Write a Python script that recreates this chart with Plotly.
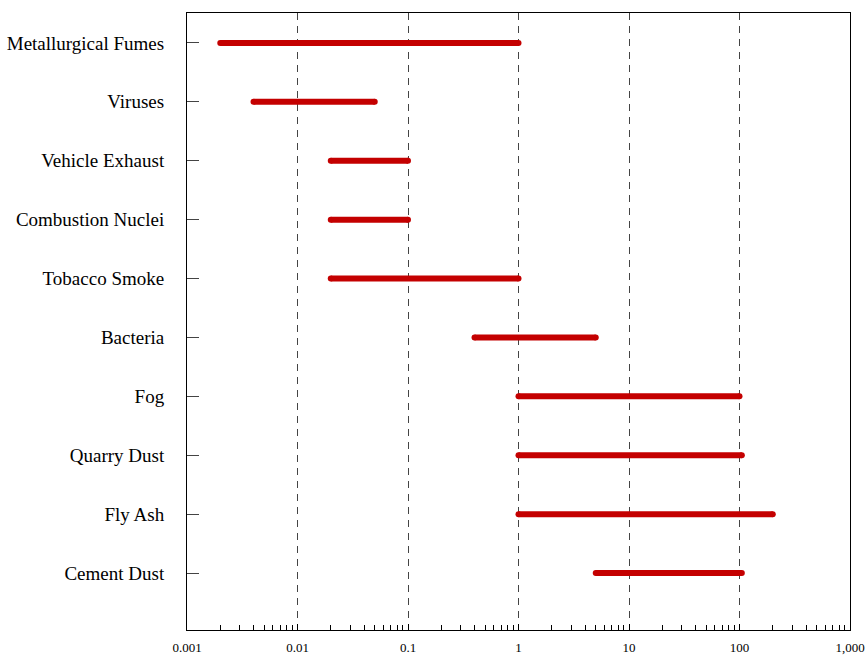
import plotly.graph_objects as go

categories = ["Metallurgical Fumes", "Viruses", "Vehicle Exhaust", "Combustion Nuclei",
              "Tobacco Smoke", "Bacteria", "Fog", "Quarry Dust", "Fly Ash", "Cement Dust"]
size_min = [0.002, 0.004, 0.02, 0.02, 0.02, 0.4, 1, 1, 1, 5]
size_max = [1, 0.05, 0.1, 0.1, 1, 5, 100, 105, 200, 105]

x_tickvals = [0.001, 0.01, 0.1, 1, 10, 100, 1000]
x_ticktext = ["0.001", "0.01", "0.1", "1", "10", "100", "1,000"]

RED = "#c40000"
fig = go.Figure()
for cat, lo, hi in zip(categories, size_min, size_max):
    fig.add_trace(go.Scatter(
        x=[lo, hi], y=[cat, cat], mode="lines+markers",
        line=dict(color=RED, width=6),
        marker=dict(color=RED, size=6, line=dict(width=0)),
        showlegend=False, hoverinfo="skip"))

fig.update_layout(
    width=867, height=659,
    margin=dict(l=187, r=17, t=13, b=29),
    paper_bgcolor="white", plot_bgcolor="white",
    font=dict(family="Liberation Serif, Times New Roman, serif", color="black"),
    xaxis=dict(
        type="log", range=[-3, 3], automargin=False,
        tickvals=x_tickvals, ticktext=x_ticktext,
        ticks="inside", ticklen=6, tickcolor="black",
        showline=True, linecolor="black", linewidth=1, mirror=True,
        showgrid=True, gridcolor="#444", gridwidth=1, griddash="7px,6px",
        tickfont=dict(size=13), ticklabelstandoff=5,
        minor=dict(ticks="inside", ticklen=5, tickcolor="black", dtick="D1", showgrid=False),
        zeroline=False,
    ),
    yaxis=dict(
        type="category", categoryorder="array", categoryarray=categories,
        range=[9.966, -0.508], automargin=False,
        tickvals=categories, ticktext=categories,
        ticks="inside", ticklen=12, tickcolor="#444",
        showline=True, linecolor="black", linewidth=1, mirror=True,
        showgrid=False, zeroline=False,
        tickfont=dict(size=19), ticklabelstandoff=18,
    ),
)

fig.write_html("out.html")
